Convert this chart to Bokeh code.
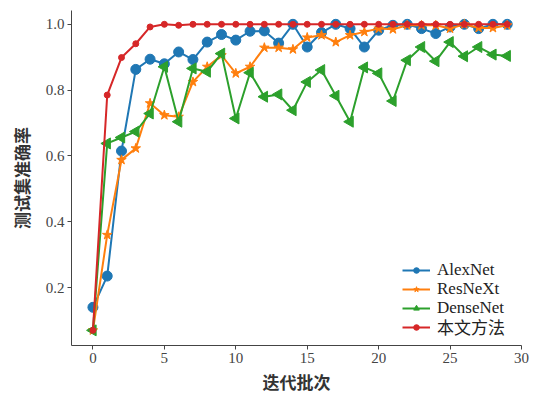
import numpy as np
from bokeh.plotting import figure
from bokeh.models import FixedTicker, NumeralTickFormatter, Legend
from bokeh.embed import file_html
from bokeh.resources import INLINE

epochs = list(range(30))
alexnet = [0.14, 0.235, 0.615, 0.863, 0.894, 0.880, 0.916, 0.893, 0.946, 0.969,
           0.952, 0.979, 0.980, 0.943, 1.0, 0.931, 0.975, 1.0, 0.987, 0.931,
           0.982, 0.997, 1.0, 0.987, 0.972, 0.992, 1.0, 0.987, 1.0, 1.0]
resnext = [0.07, 0.36, 0.588, 0.623, 0.760, 0.724, 0.719, 0.825, 0.871, 0.906,
           0.851, 0.871, 0.929, 0.929, 0.924, 0.960, 0.967, 0.946, 0.967, 0.977,
           0.987, 0.985, 0.997, 0.997, 0.997, 0.987, 1.0, 0.989, 0.989, 0.997]
densenet = [0.07, 0.638, 0.656, 0.674, 0.729, 0.871, 0.704, 0.866, 0.856, 0.911,
            0.714, 0.853, 0.780, 0.787, 0.739, 0.825, 0.861, 0.783, 0.704, 0.869,
            0.851, 0.767, 0.891, 0.931, 0.888, 0.946, 0.903, 0.931, 0.908, 0.904]
ours = [0.07, 0.785, 0.899, 0.941, 0.992, 1.0, 0.997, 1.0, 1.0, 1.0,
        1.0, 1.0, 1.0, 1.0, 1.0, 1.0, 1.0, 1.0, 1.0, 1.0,
        1.0, 1.0, 1.0, 1.0, 1.0, 1.0, 1.0, 1.0, 1.0, 1.0]
names = ["AlexNet", "ResNeXt", "DenseNet", "本文方法"]
x_ticks = [0, 5, 10, 15, 20, 25, 30]
y_ticks = [0.2, 0.4, 0.6, 0.8, 1.0]

p = figure(width=537, height=396, output_backend="svg", toolbar_location=None,
           x_range=(-1.5, 30), y_range=(0.024, 1.042),
           min_border_left=71, min_border_right=16, min_border_top=10, min_border_bottom=49)
p.outline_line_color = None
p.xgrid.visible = False
p.ygrid.visible = False

serif = "Liberation Serif"
cjk = "Noto Sans CJK SC"

for ax in (p.xaxis[0], p.yaxis[0]):
    ax.axis_line_color = "#444444"
    ax.major_tick_line_color = "#444444"
    ax.minor_tick_line_color = None
    ax.major_tick_in = 0
    ax.major_tick_out = 4
    ax.major_label_text_font = serif
    ax.major_label_text_font_size = "15px"
    ax.major_label_text_color = "#444444"
    ax.axis_label_text_font = cjk
    ax.axis_label_text_font_size = "17px"
    ax.axis_label_text_font_style = "bold"
    ax.axis_label_text_color = "#333333"
    ax.major_label_standoff = 3

p.xaxis.axis_label_standoff = 3
p.yaxis.axis_label_standoff = 9
p.xaxis.ticker = FixedTicker(ticks=x_ticks)
p.yaxis.ticker = FixedTicker(ticks=y_ticks)
p.yaxis.formatter = NumeralTickFormatter(format="0.0")
p.xaxis.axis_label = "迭代批次"
p.yaxis.axis_label = "测试集准确率"

series = [
    (alexnet, "#1f77b4", "circle", 10, 0),
    (resnext, "#ff7f0e", "star", 10, 0),
    (densenet, "#2ca02c", "triangle", 11, np.pi / 2),
    (ours, "#d62728", "circle", 6, 0),
]
legend_bottoms = [65, 46, 27, 6]
for (vals, color, marker, size, ang), name, lb in zip(series, names, legend_bottoms):
    r1 = p.line(epochs, vals, line_color=color, line_width=2)
    r2 = p.scatter(epochs, vals, marker=marker, size=size, angle=ang,
                   fill_color=color, line_color=color)
    lg = Legend(items=[(name, [r1, r2])], location=(331, lb))
    lg.label_text_font = "Liberation Serif, Noto Sans CJK SC"
    lg.label_text_font_size = "17px"
    lg.label_text_line_height = 1.0
    lg.label_text_color = "#222222"
    lg.border_line_color = None
    lg.background_fill_alpha = 0
    lg.glyph_width = 28
    lg.glyph_height = 14
    lg.label_standoff = 7
    lg.spacing = 0
    lg.padding = 0
    lg.margin = 0
    lg.label_height = 14
    p.add_layout(lg)

open("out.html", "w").write(file_html(p, INLINE))
